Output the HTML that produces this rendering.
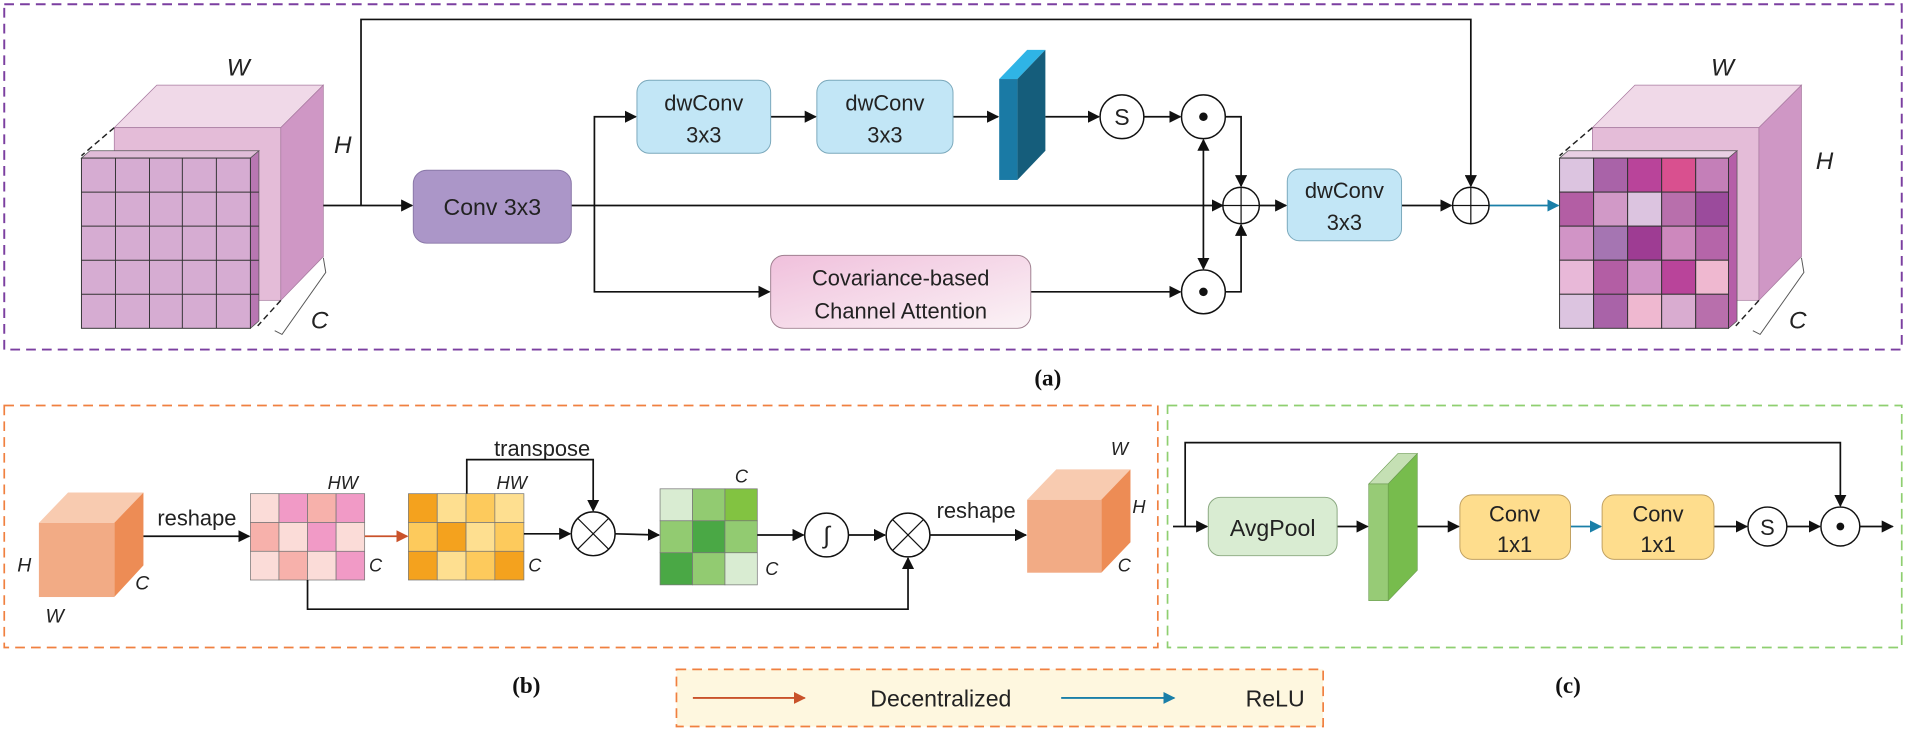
<!DOCTYPE html>
<html><head><meta charset="utf-8"><style>
html,body{margin:0;padding:0;background:#fff;}
svg{display:block;}
text{font-family:"Liberation Sans",sans-serif;fill:#222;}
.it{font-style:italic;}
.lbl{font-family:"Liberation Serif",serif;font-weight:bold;font-size:19px;fill:#111;}
</style></head><body>
<svg width="1906" height="732" viewBox="0 0 1568 602" preserveAspectRatio="none" xmlns="http://www.w3.org/2000/svg">
<defs>
<marker id="ah" markerWidth="10" markerHeight="10" refX="9" refY="5" orient="auto" markerUnits="userSpaceOnUse"><path d="M0,0 L10,5 L0,10 z" fill="#111"/></marker>
<marker id="ab" markerWidth="10" markerHeight="10" refX="9" refY="5" orient="auto" markerUnits="userSpaceOnUse"><path d="M0,0 L10,5 L0,10 z" fill="#1a7fa8"/></marker>
<marker id="ao" markerWidth="10" markerHeight="10" refX="9" refY="5" orient="auto" markerUnits="userSpaceOnUse"><path d="M0,0 L10,5 L0,10 z" fill="#c9522a"/></marker>
<linearGradient id="cov" x1="0" y1="0" x2="1" y2="1"><stop offset="0" stop-color="#f0c0dc"/><stop offset="1" stop-color="#fbf3f6"/></linearGradient>
<g id="cubeback">
<polygon points="129,70 266,70 231,105 94,105" fill="#f0d9e8" stroke="#a87aa0" stroke-width="0.6"/>
<rect x="94" y="105" width="137" height="142" fill="#e4bcd8" stroke="#a87aa0" stroke-width="0.6"/>
<polygon points="231,105 266,70 266,211 231,247" fill="#cf97c5" stroke="#a87aa0" stroke-width="0.6"/>
<polyline points="266,212 268,224 232,275 226,272" fill="#fff" stroke="#555" stroke-width="0.8"/>
<line x1="94" y1="105" x2="67" y2="128" stroke="#222" stroke-dasharray="5,3" stroke-width="1.2"/>
<line x1="231" y1="247" x2="212" y2="268" stroke="#222" stroke-dasharray="5,3" stroke-width="1.2"/>
</g>
</defs>

<!-- Panel A -->
<rect x="3.5" y="3.5" width="1561" height="284" fill="none" stroke="#7b3fa0" stroke-width="1.6" stroke-dasharray="8,5"/>
<text x="862" y="317" class="lbl" text-anchor="middle">(a)</text>

<!-- left cube -->
<use href="#cubeback"/>
<polygon points="67,130 74,124 213,124 206,130" fill="#e0bcd8" stroke="#555" stroke-width="0.6"/>
<polygon points="206,130 213,124 213,264 206,270" fill="#b877b2" stroke="#555" stroke-width="0.6"/>
<rect x="67" y="130" width="139" height="140" fill="#d6acd2" stroke="#333" stroke-width="0.8"/>
<g stroke="#333" stroke-width="0.8">
<line x1="95" y1="130" x2="95" y2="270"/><line x1="123" y1="130" x2="123" y2="270"/><line x1="150" y1="130" x2="150" y2="270"/><line x1="178" y1="130" x2="178" y2="270"/>
<line x1="67" y1="158" x2="213" y2="158"/><line x1="67" y1="186" x2="213" y2="186"/><line x1="67" y1="214" x2="213" y2="214"/><line x1="67" y1="242" x2="213" y2="242"/>
</g>
<text x="196" y="62" class="it" font-size="20" text-anchor="middle">W</text>
<text x="282" y="126" class="it" font-size="20" text-anchor="middle">H</text>
<text x="263" y="270" class="it" font-size="20" text-anchor="middle">C</text>

<!-- right cube -->
<g transform="translate(1216,0)"><use href="#cubeback"/></g>
<polygon points="1283,130 1290,124 1429,124 1422,130" fill="#e8cfe3" stroke="#555" stroke-width="0.6"/>
<polygon points="1422,130 1429,124 1429,264 1422,270" fill="#b55ea8" stroke="#555" stroke-width="0.6"/>
<g stroke="#333" stroke-width="0.8">
<rect x="1283" y="130" width="28" height="28" fill="#dcc4e0"/><rect x="1311" y="130" width="28" height="28" fill="#a963a8"/><rect x="1339" y="130" width="28" height="28" fill="#b9449a"/><rect x="1367" y="130" width="28" height="28" fill="#d9508f"/><rect x="1395" y="130" width="27" height="28" fill="#c47fb8"/>
<rect x="1283" y="158" width="28" height="28" fill="#b35ea4"/><rect x="1311" y="158" width="28" height="28" fill="#d199c7"/><rect x="1339" y="158" width="28" height="28" fill="#dcc4e0"/><rect x="1367" y="158" width="28" height="28" fill="#b86fac"/><rect x="1395" y="158" width="27" height="28" fill="#9b4b9c"/>
<rect x="1283" y="186" width="28" height="28" fill="#d194c6"/><rect x="1311" y="186" width="28" height="28" fill="#a575b2"/><rect x="1339" y="186" width="28" height="28" fill="#9e3c93"/><rect x="1367" y="186" width="28" height="28" fill="#cd88bd"/><rect x="1395" y="186" width="27" height="28" fill="#b565a9"/>
<rect x="1283" y="214" width="28" height="28" fill="#e8b8d8"/><rect x="1311" y="214" width="28" height="28" fill="#b35ea4"/><rect x="1339" y="214" width="28" height="28" fill="#d194c6"/><rect x="1367" y="214" width="28" height="28" fill="#b9449a"/><rect x="1395" y="214" width="27" height="28" fill="#efb8d0"/>
<rect x="1283" y="242" width="28" height="28" fill="#dcc4e0"/><rect x="1311" y="242" width="28" height="28" fill="#a963a8"/><rect x="1339" y="242" width="28" height="28" fill="#efb8d0"/><rect x="1367" y="242" width="28" height="28" fill="#d9acd0"/><rect x="1395" y="242" width="27" height="28" fill="#b86fac"/>
</g>
<text x="1417" y="62" class="it" font-size="20" text-anchor="middle">W</text>
<text x="1501" y="139" class="it" font-size="20" text-anchor="middle">H</text>
<text x="1479" y="270" class="it" font-size="20" text-anchor="middle">C</text>

<!-- connectors A -->
<g stroke="#111" stroke-width="1.4" fill="none">
<polyline points="297,169 297,16 1210,16 1210,153" marker-end="url(#ah)"/>
<line x1="266" y1="169" x2="339" y2="169" marker-end="url(#ah)"/>
<line x1="470" y1="169" x2="1006" y2="169" marker-end="url(#ah)"/>
<polyline points="489,169 489,96 523,96" marker-end="url(#ah)"/>
<polyline points="489,169 489,240 633,240" marker-end="url(#ah)"/>
<line x1="634" y1="96" x2="671" y2="96" marker-end="url(#ah)"/>
<line x1="784" y1="96" x2="821" y2="96" marker-end="url(#ah)"/>
<line x1="860" y1="96" x2="904" y2="96" marker-end="url(#ah)"/>
<line x1="941" y1="96" x2="971" y2="96" marker-end="url(#ah)"/>
<line x1="848" y1="240" x2="971" y2="240" marker-end="url(#ah)"/>
<line x1="990" y1="169" x2="990" y2="115" marker-end="url(#ah)"/>
<line x1="990" y1="169" x2="990" y2="221" marker-end="url(#ah)"/>
<polyline points="1008,96 1021,96 1021,153" marker-end="url(#ah)"/>
<polyline points="1008,240 1021,240 1021,185" marker-end="url(#ah)"/>
<line x1="1036" y1="169" x2="1058" y2="169" marker-end="url(#ah)"/>
<line x1="1153" y1="169" x2="1194" y2="169" marker-end="url(#ah)"/>
</g>
<line x1="1225" y1="169" x2="1282" y2="169" stroke="#1a7fa8" stroke-width="1.4" marker-end="url(#ab)"/>

<rect x="340" y="140" width="130" height="60" rx="11" fill="#ab96c8" stroke="#8a78a8" stroke-width="0.8"/>
<text x="405" y="177" font-size="19" text-anchor="middle">Conv 3x3</text>
<rect x="524" y="66" width="110" height="60" rx="10" fill="#c2e6f6" stroke="#7aa8bb" stroke-width="0.8"/>
<text x="579" y="91" font-size="18" text-anchor="middle">dwConv</text><text x="579" y="117" font-size="18" text-anchor="middle">3x3</text>
<rect x="672" y="66" width="112" height="60" rx="10" fill="#c2e6f6" stroke="#7aa8bb" stroke-width="0.8"/>
<text x="728" y="91" font-size="18" text-anchor="middle">dwConv</text><text x="728" y="117" font-size="18" text-anchor="middle">3x3</text>
<rect x="1059" y="139" width="94" height="59" rx="10" fill="#c2e6f6" stroke="#7aa8bb" stroke-width="0.8"/>
<text x="1106" y="163" font-size="18" text-anchor="middle">dwConv</text><text x="1106" y="189" font-size="18" text-anchor="middle">3x3</text>
<rect x="634" y="210" width="214" height="60" rx="11" fill="url(#cov)" stroke="#a08090" stroke-width="0.8"/>
<text x="741" y="235" font-size="18" text-anchor="middle">Covariance-based</text>
<text x="741" y="262" font-size="18" text-anchor="middle">Channel Attention</text>

<!-- blue slab -->
<polygon points="822,65 845,41 860,41 837,65" fill="#2fb4e6"/>
<polygon points="837,65 860,41 860,124 837,148" fill="#155d7b"/>
<rect x="822" y="65" width="15" height="83" fill="#1a7aa5"/>

<g fill="#fff" stroke="#111" stroke-width="1.2">
<circle cx="923" cy="96" r="18"/><circle cx="990" cy="96" r="18"/><circle cx="990" cy="240" r="18"/>
<circle cx="1021" cy="169" r="15"/><circle cx="1210" cy="169" r="15"/>
</g>
<g stroke="#111" stroke-width="1"><line x1="1006" y1="169" x2="1036" y2="169"/><line x1="1021" y1="154" x2="1021" y2="184"/><line x1="1195" y1="169" x2="1225" y2="169"/><line x1="1210" y1="154" x2="1210" y2="184"/></g>
<circle cx="990" cy="96" r="3.5" fill="#111"/><circle cx="990" cy="240" r="3.5" fill="#111"/>
<text x="923" y="103" font-size="19" text-anchor="middle">S</text>

<!-- Panel B -->
<rect x="3.5" y="333.5" width="949" height="199" fill="none" stroke="#f08040" stroke-width="1.4" stroke-dasharray="8,5"/>
<text x="433" y="570" class="lbl" text-anchor="middle">(b)</text>
<polygon points="32,430 56,405 118,405 94,430" fill="#f8cbb0"/>
<polygon points="94,430 118,405 118,465 94,491" fill="#ed8c55"/>
<rect x="32" y="430" width="62" height="61" fill="#f2ab85"/>
<text x="20" y="470" class="it" font-size="16" text-anchor="middle">H</text>
<text x="45" y="512" class="it" font-size="16" text-anchor="middle">W</text>
<text x="117" y="485" class="it" font-size="16" text-anchor="middle">C</text>
<text x="162" y="432" font-size="18" text-anchor="middle">reshape</text>

<g stroke="#777" stroke-width="0.6">
<rect x="206" y="406" width="23.5" height="23.7" fill="#fbdcd8"/><rect x="229.5" y="406" width="23.5" height="23.7" fill="#f19ac6"/><rect x="253" y="406" width="23.5" height="23.7" fill="#f7b1ab"/><rect x="276.5" y="406" width="23.5" height="23.7" fill="#f19ac6"/>
<rect x="206" y="429.7" width="23.5" height="23.7" fill="#f7b1ab"/><rect x="229.5" y="429.7" width="23.5" height="23.7" fill="#fbdcd8"/><rect x="253" y="429.7" width="23.5" height="23.7" fill="#f19ac6"/><rect x="276.5" y="429.7" width="23.5" height="23.7" fill="#fbdcd8"/>
<rect x="206" y="453.4" width="23.5" height="23.6" fill="#fbdcd8"/><rect x="229.5" y="453.4" width="23.5" height="23.6" fill="#f7b1ab"/><rect x="253" y="453.4" width="23.5" height="23.6" fill="#fbdcd8"/><rect x="276.5" y="453.4" width="23.5" height="23.6" fill="#f19ac6"/>
<rect x="336" y="406" width="23.7" height="23.7" fill="#f4a21e"/><rect x="359.7" y="406" width="23.7" height="23.7" fill="#fedf90"/><rect x="383.4" y="406" width="23.7" height="23.7" fill="#fdca5c"/><rect x="407.1" y="406" width="23.9" height="23.7" fill="#fedf90"/>
<rect x="336" y="429.7" width="23.7" height="23.7" fill="#fdca5c"/><rect x="359.7" y="429.7" width="23.7" height="23.7" fill="#f4a21e"/><rect x="383.4" y="429.7" width="23.7" height="23.7" fill="#fedf90"/><rect x="407.1" y="429.7" width="23.9" height="23.7" fill="#fdca5c"/>
<rect x="336" y="453.4" width="23.7" height="23.6" fill="#f4a21e"/><rect x="359.7" y="453.4" width="23.7" height="23.6" fill="#fedf90"/><rect x="383.4" y="453.4" width="23.7" height="23.6" fill="#fdca5c"/><rect x="407.1" y="453.4" width="23.9" height="23.6" fill="#f4a21e"/>
<rect x="543" y="402" width="26.7" height="26.3" fill="#d9ecd2"/><rect x="569.7" y="402" width="26.7" height="26.3" fill="#92cb71"/><rect x="596.4" y="402" width="26.6" height="26.3" fill="#82c341"/>
<rect x="543" y="428.3" width="26.7" height="26.3" fill="#92cb71"/><rect x="569.7" y="428.3" width="26.7" height="26.3" fill="#4aa845"/><rect x="596.4" y="428.3" width="26.6" height="26.3" fill="#92cb71"/>
<rect x="543" y="454.6" width="26.7" height="26.4" fill="#4aa845"/><rect x="569.7" y="454.6" width="26.7" height="26.4" fill="#92cb71"/><rect x="596.4" y="454.6" width="26.6" height="26.4" fill="#d9ecd2"/>
</g>
<text x="282" y="402" class="it" font-size="15" text-anchor="middle">HW</text>
<text x="309" y="470" class="it" font-size="15" text-anchor="middle">C</text>
<text x="421" y="402" class="it" font-size="15" text-anchor="middle">HW</text>
<text x="440" y="470" class="it" font-size="15" text-anchor="middle">C</text>
<text x="610" y="397" class="it" font-size="15" text-anchor="middle">C</text>
<text x="635" y="473" class="it" font-size="15" text-anchor="middle">C</text>
<text x="446" y="375" font-size="18" text-anchor="middle">transpose</text>
<text x="803" y="426" font-size="18" text-anchor="middle">reshape</text>

<g stroke="#111" stroke-width="1.4" fill="none">
<line x1="118" y1="441" x2="205" y2="441" marker-end="url(#ah)"/>
<polyline points="384,406 384,378 488,378 488,420" marker-end="url(#ah)"/>
<line x1="431" y1="439" x2="469" y2="439" marker-end="url(#ah)"/>
<line x1="506" y1="439" x2="542" y2="440" marker-end="url(#ah)"/>
<line x1="623" y1="440" x2="661" y2="440" marker-end="url(#ah)"/>
<line x1="698" y1="440" x2="728" y2="440" marker-end="url(#ah)"/>
<line x1="765" y1="440" x2="844" y2="440" marker-end="url(#ah)"/>
<polyline points="253,477 253,501 747,501 747,459" marker-end="url(#ah)"/>
</g>
<line x1="300" y1="441" x2="335" y2="441" stroke="#c9522a" stroke-width="1.4" marker-end="url(#ao)"/>
<g fill="#fff" stroke="#111" stroke-width="1.2">
<circle cx="488" cy="439" r="18"/><circle cx="680" cy="440" r="18"/><circle cx="747" cy="440" r="18"/>
</g>
<g stroke="#111" stroke-width="1"><line x1="475" y1="426" x2="501" y2="452"/><line x1="501" y1="426" x2="475" y2="452"/><line x1="734" y1="427" x2="760" y2="453"/><line x1="760" y1="427" x2="734" y2="453"/></g>
<text x="680" y="447" font-size="20" text-anchor="middle">∫</text>

<polygon points="845,411 869,386 930,386 906,411" fill="#f8cbb0"/>
<polygon points="906,411 930,386 930,446 906,471" fill="#ed8c55"/>
<rect x="845" y="411" width="61" height="60" fill="#f2ab85"/>
<text x="921" y="374" class="it" font-size="15" text-anchor="middle">W</text>
<text x="937" y="422" class="it" font-size="15" text-anchor="middle">H</text>
<text x="925" y="470" class="it" font-size="15" text-anchor="middle">C</text>

<!-- Legend -->
<rect x="556.5" y="550.5" width="532" height="47" fill="#fef7df" stroke="#f08040" stroke-width="1.4" stroke-dasharray="8,5"/>
<line x1="570" y1="574" x2="662" y2="574" stroke="#c9522a" stroke-width="1.6" marker-end="url(#ao)"/>
<text x="774" y="581" font-size="19" text-anchor="middle">Decentralized</text>
<line x1="873" y1="574" x2="966" y2="574" stroke="#1a7fa8" stroke-width="1.6" marker-end="url(#ab)"/>
<text x="1049" y="581" font-size="19" text-anchor="middle">ReLU</text>

<!-- Panel C -->
<rect x="960.5" y="333.5" width="604" height="199" fill="none" stroke="#8fcf70" stroke-width="1.4" stroke-dasharray="8,5"/>
<text x="1290" y="570" class="lbl" text-anchor="middle">(c)</text>
<g stroke="#111" stroke-width="1.4" fill="none">
<polyline points="975,433 975,364 1514,364 1514,416" marker-end="url(#ah)"/>
<line x1="965" y1="433" x2="993" y2="433" marker-end="url(#ah)"/>
<line x1="1100" y1="433" x2="1125" y2="433" marker-end="url(#ah)"/>
<line x1="1166" y1="433" x2="1200" y2="433" marker-end="url(#ah)"/>
<line x1="1410" y1="433" x2="1437" y2="433" marker-end="url(#ah)"/>
<line x1="1470" y1="433" x2="1497" y2="433" marker-end="url(#ah)"/>
<line x1="1530" y1="433" x2="1557" y2="433" marker-end="url(#ah)"/>
</g>
<line x1="1292" y1="433" x2="1317" y2="433" stroke="#1a7fa8" stroke-width="1.4" marker-end="url(#ab)"/>
<rect x="994" y="409" width="106" height="48" rx="10" fill="#d9ecd2" stroke="#8aa880" stroke-width="0.8"/>
<text x="1047" y="441" font-size="19" text-anchor="middle">AvgPool</text>
<polygon points="1126,398 1150,373 1166,373 1142,398" fill="#c5e0b4" stroke="#6a9a50" stroke-width="0.5"/>
<polygon points="1142,398 1166,373 1166,469 1142,494" fill="#77bc4d" stroke="#6a9a50" stroke-width="0.5"/>
<rect x="1126" y="398" width="16" height="96" fill="#97cb76" stroke="#6a9a50" stroke-width="0.5"/>
<rect x="1201" y="407" width="91" height="53" rx="10" fill="#fedd8d" stroke="#c0a060" stroke-width="0.8"/>
<text x="1246" y="429" font-size="18" text-anchor="middle">Conv</text><text x="1246" y="454" font-size="18" text-anchor="middle">1x1</text>
<rect x="1318" y="407" width="92" height="53" rx="10" fill="#fedd8d" stroke="#c0a060" stroke-width="0.8"/>
<text x="1364" y="429" font-size="18" text-anchor="middle">Conv</text><text x="1364" y="454" font-size="18" text-anchor="middle">1x1</text>
<g fill="#fff" stroke="#111" stroke-width="1.2"><circle cx="1454" cy="433" r="16"/><circle cx="1514" cy="433" r="16"/></g>
<text x="1454" y="440" font-size="18" text-anchor="middle">S</text>
<circle cx="1514" cy="433" r="3.2" fill="#111"/>
</svg>
</body></html>
